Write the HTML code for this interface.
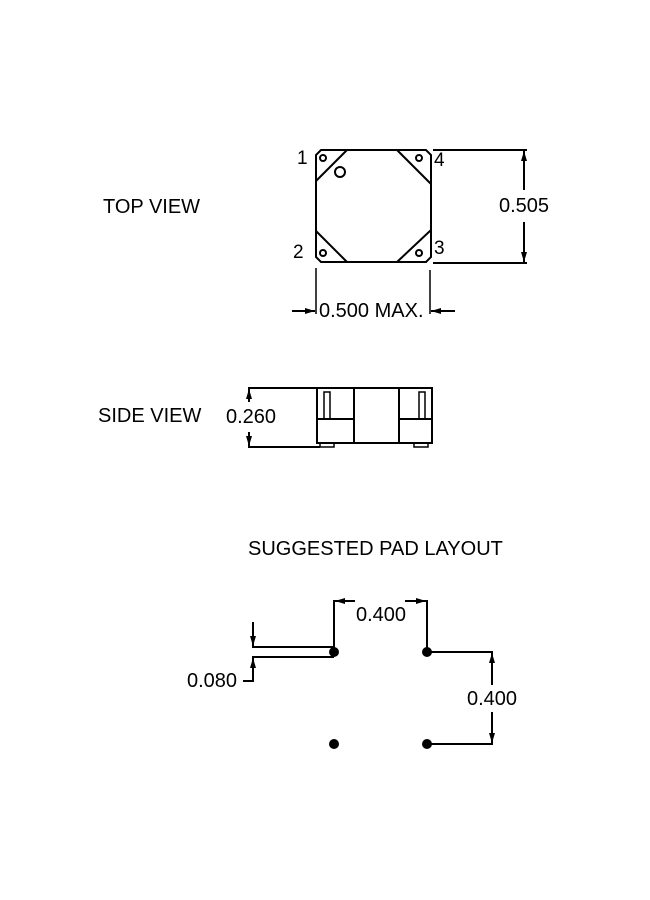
<!DOCTYPE html>
<html><head><style>body{margin:0;background:#fff}svg{display:block}text{font-family:"Liberation Sans",sans-serif;font-size:20px;fill:#000}</style></head><body>
<svg width="650" height="900" viewBox="0 0 650 900" xmlns="http://www.w3.org/2000/svg">
<defs><marker id="a" viewBox="0 0 10 6" refX="10" refY="3" markerWidth="10" markerHeight="6" orient="auto" markerUnits="userSpaceOnUse"><path d="M0,0L10,3L0,6z"/></marker></defs>
<g stroke="#000" stroke-width="2" fill="none">
<path d="M321,150H426L431,155V257L426,262H321L316,257V155Z"/>
<path d="M347,150L316,181M397,150L431,184M316,231L347,262M397,262L431,230"/>
<circle cx="323" cy="158" r="3"/><circle cx="419" cy="158" r="3"/><circle cx="323" cy="253" r="3"/><circle cx="419" cy="253" r="3"/>
<circle cx="340" cy="172" r="5"/>
<path d="M433,150H527M433,263H527"/>
<path d="M524,190V151" marker-end="url(#a)"/><path d="M524,222V262" marker-end="url(#a)"/>
<path d="M316,268V314M430,270V314" stroke-width="1.5"/>
<path d="M292,311H315" marker-end="url(#a)"/><path d="M455,311H431" marker-end="url(#a)"/>
<rect x="317" y="388" width="115" height="55"/>
<path d="M354,388V443M399,388V443M317,419H354M399,419H432"/>
<rect x="324" y="392" width="6" height="27" stroke-width="1.5"/><rect x="419" y="392" width="6" height="27" stroke-width="1.5"/>
<rect x="320" y="443" width="14" height="4" stroke-width="1.5"/><rect x="414" y="443" width="14" height="4" stroke-width="1.5"/>
<path d="M248,388H317M248,447H320"/>
<path d="M249,402V389" marker-end="url(#a)"/><path d="M249,432V446" marker-end="url(#a)"/>
<path d="M334,600V652M427,600V652"/>
<path d="M355,601H335" marker-end="url(#a)"/><path d="M405,601H426" marker-end="url(#a)"/>
<path d="M252,647H334M252,657H334"/>
<path d="M253,622V646" marker-end="url(#a)"/><path d="M253,681V658" marker-end="url(#a)"/>
<path d="M243,681H254"/>
<path d="M427,652H493M427,744H493"/>
<path d="M492,685V653" marker-end="url(#a)"/><path d="M492,712V743" marker-end="url(#a)"/>
</g>
<g fill="#000"><circle cx="334" cy="652" r="5"/><circle cx="427" cy="652" r="5"/><circle cx="334" cy="744" r="5"/><circle cx="427" cy="744" r="5"/></g>
<text x="103" y="213">TOP VIEW</text>
<text x="297" y="164" style="font-size:19px">1</text><text x="434" y="166" style="font-size:19px">4</text><text x="293" y="258" style="font-size:19px">2</text><text x="434" y="254" style="font-size:19px">3</text>
<text x="499" y="212">0.505</text>
<text x="319" y="317">0.500 MAX.</text>
<text x="98" y="422">SIDE VIEW</text>
<text x="226" y="423">0.260</text>
<text x="248" y="555">SUGGESTED PAD LAYOUT</text>
<text x="356" y="621">0.400</text>
<text x="187" y="687">0.080</text>
<text x="467" y="705">0.400</text>
</svg>
</body></html>
